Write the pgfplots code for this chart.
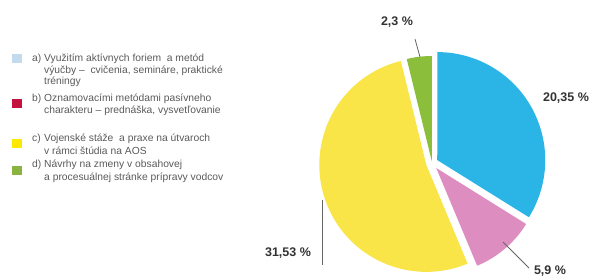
\documentclass[border=0pt]{standalone}
\usepackage{pgfplots}
\pgfplotsset{compat=1.18}
\usepackage{fontspec}
\setmainfont{Liberation Sans}
\definecolor{pblue}{HTML}{2BB5E6}
\definecolor{ppink}{HTML}{DE8DC1}
\definecolor{pyellow}{HTML}{F9E547}
\definecolor{pgreen}{HTML}{8BBE3A}
\definecolor{lblue}{HTML}{C4DBEE}
\definecolor{lred}{HTML}{C4123F}
\definecolor{lyellow}{HTML}{FDE800}
\definecolor{lgreen}{HTML}{8AB43F}
\definecolor{ltext}{HTML}{5A5A5A}
\definecolor{ptext}{HTML}{333333}
% #1 start angle, #2 value, #3 colour, #4 explode, #5 radius
\newcommand\pieslice[5]{%
  \pgfmathsetmacro\sa{#1}%
  \pgfmathsetmacro\ea{\sa-#2/60.08*360}%
  \pgfmathsetmacro\ma{(\sa+\ea)/2}%
  \pgfmathsetmacro\ox{432+#4*cos(\ma)}%
  \pgfmathsetmacro\oy{116+#4*sin(\ma)}%
  \edef\tmp{\noexpand\addplot[fill=#3, draw=none, domain=\ea:\sa, samples=90]
    ({\ox+#5*cos(x)},{\oy+#5*sin(x)}) -- (axis cs:\ox,\oy) -- cycle;}%
  \tmp}
\begin{document}
\begin{tikzpicture}
\begin{axis}[width=595pt,height=279pt,scale only axis,
  xmin=0,xmax=595,ymin=0,ymax=279,hide axis,clip=false]
\pieslice{90}{20.35}{pblue}{6}{108}
\pieslice{90-20.35/60.08*360}{5.9}{ppink}{6.5}{106}
\pieslice{90-(20.35+5.9)/60.08*360}{31.53}{pyellow}{6}{107}
\pieslice{90-(20.35+5.9+31.53)/60.08*360}{2.3}{pgreen}{2}{105}
% leader lines
\addplot[black!60, line width=0.8pt] coordinates {(415,240) (420,222)};
\addplot[black!60, line width=0.8pt] coordinates {(322,79) (322,14)};
\addplot[black!60, line width=0.8pt] coordinates {(503,37) (529,11)};
% percentage labels
\begin{scope}[every node/.style={font=\fontsize{12.5}{14}\selectfont\bfseries, text=ptext, inner sep=0}]
\node at (axis cs:397,257) {2,3 \%};
\node at (axis cs:566,181) {20,35 \%};
\node at (axis cs:288,26) {31,53 \%};
\node at (axis cs:550,8) {5,9 \%};
\end{scope}
% legend squares
\addplot[only marks, mark=square*, mark size=4.2pt, lblue] coordinates {(16.5,221)};
\addplot[only marks, mark=square*, mark size=4.2pt, lred] coordinates {(16.5,176)};
\addplot[only marks, mark=square*, mark size=4.2pt, lyellow] coordinates {(16.5,136)};
\addplot[only marks, mark=square*, mark size=4.2pt, lgreen] coordinates {(16.5,109)};
% legend text
\begin{scope}[every node/.style={font=\fontsize{10.3}{12}\selectfont, text=ltext, inner sep=0, anchor=base west}]
\node at (axis cs:32,217.5) {a)};
\node at (axis cs:44,217.5) {Využitím aktívnych foriem \ a metód};
\node at (axis cs:44,205.5) {výučby – \ cvičenia, semináre, praktické};
\node at (axis cs:44,194.5) {tréningy};
\node at (axis cs:32,177.5) {b)};
\node at (axis cs:44,177.5) {Oznamovacími metódami pasívneho};
\node at (axis cs:44,165.5) {charakteru – prednáška, vysvetľovanie};
\node at (axis cs:32,137.5) {c)};
\node at (axis cs:44,137.5) {Vojenské stáže \ a praxe na útvaroch};
\node at (axis cs:44,124.5) {v rámci štúdia na AOS};
\node at (axis cs:32,111.5) {d)};
\node at (axis cs:44,111.5) {Návrhy na zmeny v obsahovej};
\node at (axis cs:44,98.5) {a procesuálnej stránke prípravy vodcov};
\end{scope}
\end{axis}
\pgfresetboundingbox
\useasboundingbox (current axis.south west) rectangle (current axis.north east);
\end{tikzpicture}
\end{document}
